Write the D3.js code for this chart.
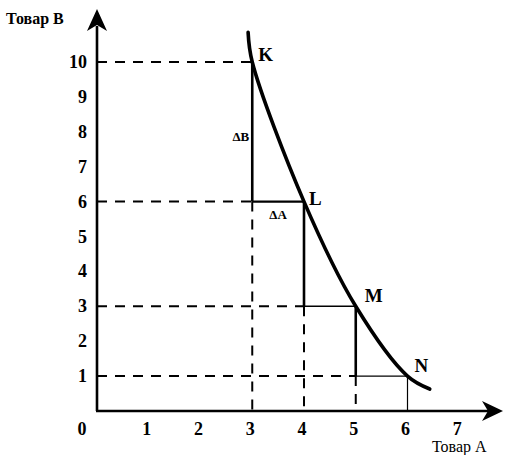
<!DOCTYPE html>
<html>
<head>
<meta charset="utf-8">
<script src="https://cdn.jsdelivr.net/npm/d3@7"></script>
<style>
  body { margin: 0; background: #fff; }
  svg text { font-family: "Liberation Serif", "DejaVu Serif", serif; fill: #000; }
</style>
</head>
<body>
<div id="chart"></div>
<script>
// ticks on both axes
const xTicks = [1, 2, 3, 4, 5, 6, 7];
const yTicks = [1, 2, 3, 4, 5, 6, 7, 8, 9, 10];

// named points on the indifference curve
const points = [
    { name: "K", a: 3, b: 10 },
    { name: "L", a: 4, b: 6 },
    { name: "M", a: 5, b: 3 },
    { name: "N", a: 6, b: 1 }
];

// curve (includes the ends that stick out)
const curveA = [2.92, 3, 4, 5, 6, 6.43];
const curveB = [10.85, 10, 6, 3, 1, 0.63];

// step segments between points: [a1, b1, a2, b2]
const stepVertical = [[3, 10, 3, 6], [4, 6, 4, 3], [5, 3, 5, 1]];
const stepHorizontal = [[3, 6, 4, 6], [4, 3, 5, 3], [5, 1, 6, 1]];

// dashed guide lines
const dashedLines = [
    [0, 10, 3, 10], [0, 6, 3, 6], [0, 3, 4, 3], [0, 1, 5, 1],
    [3, 6, 3, 0], [4, 3, 4, 0], [5, 1, 5, 0]
];

document.addEventListener("DOMContentLoaded", function() {
    const width = 505, height = 455;

    const x = d3.scaleLinear().domain([0, 6]).range([97, 407.5]);
    const y = d3.scaleLinear().domain([0, 10]).range([411, 62]);

    const svg = d3.select("#chart").append("svg")
        .attr("width", width)
        .attr("height", height);

    // dashed guides
    svg.selectAll(".dash")
        .data(dashedLines)
        .enter().append("line")
        .attr("x1", d => x(d[0])).attr("y1", d => y(d[1]))
        .attr("x2", d => x(d[2])).attr("y2", d => y(d[3]))
        .attr("stroke", "#000")
        .attr("stroke-width", 2)
        .attr("stroke-dasharray", "10,8");

    // thin tick-down at x=6
    svg.append("line")
        .attr("x1", x(6)).attr("y1", y(1))
        .attr("x2", x(6)).attr("y2", y(0))
        .attr("stroke", "#000").attr("stroke-width", 1.2);

    // steps
    svg.selectAll(".vstep")
        .data(stepVertical)
        .enter().append("line")
        .attr("x1", d => x(d[0])).attr("y1", d => y(d[1]))
        .attr("x2", d => x(d[2])).attr("y2", d => y(d[3]))
        .attr("stroke", "#000").attr("stroke-width", 2.6);

    svg.selectAll(".hstep")
        .data(stepHorizontal)
        .enter().append("line")
        .attr("x1", d => x(d[0])).attr("y1", d => y(d[1]))
        .attr("x2", d => x(d[2])).attr("y2", d => y(d[3]))
        .attr("stroke", "#000").attr("stroke-width", (d, i) => i === 0 ? 2.2 : 1.4);

    // indifference curve
    const line = d3.line()
        .x(d => x(d[0]))
        .y(d => y(d[1]))
        .curve(d3.curveCatmullRom.alpha(0.5));

    svg.append("path")
        .datum(curveA.map((a, i) => [a, curveB[i]]))
        .attr("d", line)
        .attr("fill", "none")
        .attr("stroke", "#000")
        .attr("stroke-width", 3.6)
        .attr("stroke-linecap", "round");

    // axes
    svg.append("line")
        .attr("x1", x(0)).attr("y1", y(0))
        .attr("x2", x(0)).attr("y2", 26)
        .attr("stroke", "#000").attr("stroke-width", 2.6);
    svg.append("line")
        .attr("x1", x(0) - 1).attr("y1", y(0))
        .attr("x2", 492).attr("y2", y(0))
        .attr("stroke", "#000").attr("stroke-width", 2.6);

    // arrow heads
    svg.append("path")
        .attr("d", `M${x(0)},9 L${x(0) + 10},31 L${x(0)},25 L${x(0) - 10},31 Z`)
        .attr("fill", "#000");
    svg.append("path")
        .attr("d", `M503,${y(0)} L482,${y(0) - 10} L488,${y(0)} L482,${y(0) + 10} Z`)
        .attr("fill", "#000");

    // tick labels
    svg.selectAll(".xt")
        .data(xTicks)
        .enter().append("text")
        .attr("x", d => x(d) - 2)
        .attr("y", 435)
        .attr("text-anchor", "middle")
        .attr("font-size", 18)
        .attr("font-weight", "bold")
        .text(d => d);

    svg.selectAll(".yt")
        .data(yTicks)
        .enter().append("text")
        .attr("x", 87)
        .attr("y", d => y(d) + 6)
        .attr("text-anchor", "end")
        .attr("font-size", 18)
        .attr("font-weight", "bold")
        .text(d => d);

    svg.append("text")
        .attr("x", 82).attr("y", 435)
        .attr("text-anchor", "middle")
        .attr("font-size", 18).attr("font-weight", "bold")
        .text("0");

    // axis titles
    svg.append("text")
        .attr("x", 6).attr("y", 24)
        .attr("font-size", 16).attr("font-weight", "bold")
        .text("Товар B");
    svg.append("text")
        .attr("x", 432).attr("y", 452)
        .attr("font-size", 16)
        .text("Товар A");

    // point labels
    const offsets = { K: [6, -1], L: [5, 3], M: [9, -4], N: [7, -4] };
    svg.selectAll(".pl")
        .data(points)
        .enter().append("text")
        .attr("x", d => x(d.a) + offsets[d.name][0])
        .attr("y", d => y(d.b) + offsets[d.name][1])
        .attr("font-size", 19)
        .attr("font-weight", "bold")
        .text(d => d.name);

    // delta labels
    svg.append("text")
        .attr("x", x(3) - 3).attr("y", y(8) + 9)
        .attr("text-anchor", "end")
        .attr("font-size", 13).attr("font-weight", "bold")
        .text("ΔB");
    svg.append("text")
        .attr("x", x(3.5)).attr("y", y(6) + 17)
        .attr("text-anchor", "middle")
        .attr("font-size", 13).attr("font-weight", "bold")
        .text("ΔA");
});
</script>
</body>
</html>
